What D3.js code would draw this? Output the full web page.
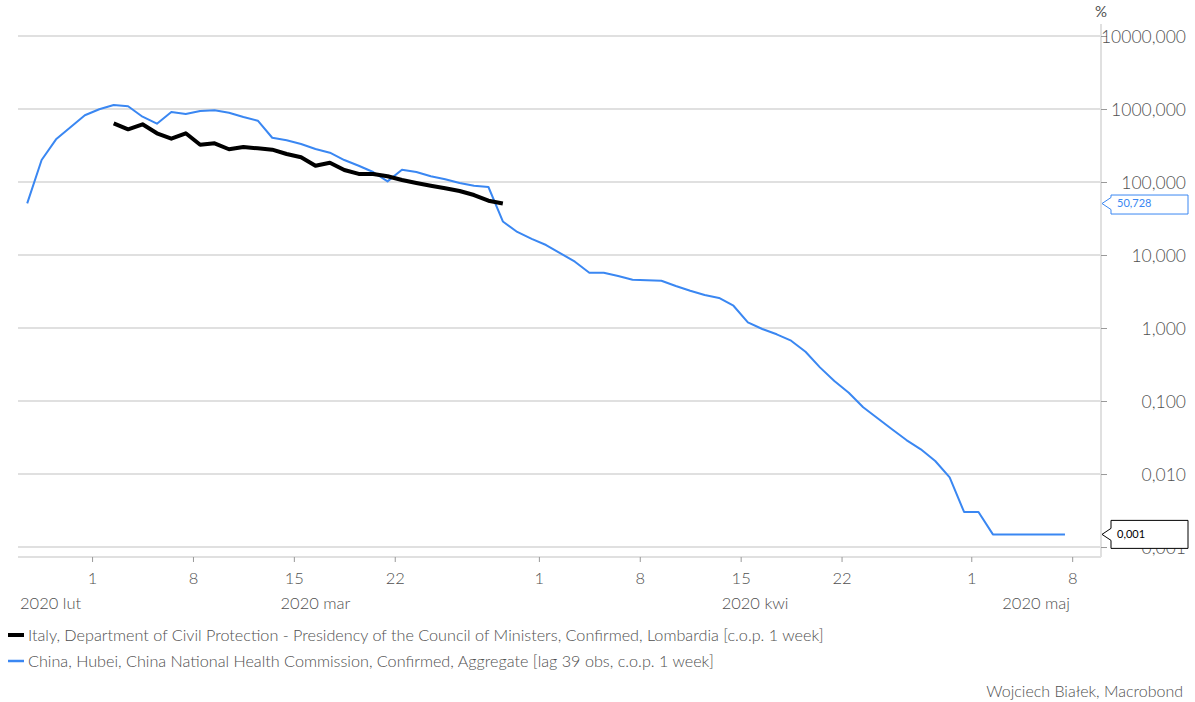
<!DOCTYPE html>
<html>
<head>
<meta charset="utf-8">
<script src="https://cdn.jsdelivr.net/npm/d3@7"></script>
<style>
  html, body { margin: 0; padding: 0; background: #fff; }
  svg { display: block; font-family: Lato, "Open Sans", sans-serif; }
</style>
</head>
<body>
<svg id="chart" width="1195" height="702"></svg>
<script>
// ---------- data ----------
const italyStart = "2020-03-02";
const italyValues = [637, 527, 617, 465, 392, 465, 324, 339, 281, 302, 289, 277, 242, 218,
  167, 184, 146, 129, 129, 120, 106.5, 96.9, 89.0, 82.0, 75.3, 66.3, 55.4, 50.728];

const chinaStart = "2020-02-25";
const chinaValues = [51, 200, 384, 561, 820, 991, 1134, 1089, 784, 629, 910, 854, 939, 960,
  890, 777, 691, 404, 373, 332, 283, 252, 200, 167, 137, 102, 147, 137, 120, 109, 96.9, 89.0,
  85.4, 28.8, 20.7, 16.6, 13.7, 10.55, 8.09, 5.72, 5.72, 5.16, 4.59, 4.50, 4.44, 3.76, 3.24,
  2.83, 2.58, 2.02, 1.197, 0.969, 0.820, 0.670, 0.473, 0.289, 0.188, 0.130, 0.082, 0.058,
  0.041, 0.0292, 0.0218, 0.01507, 0.00901, 0.00302, 0.00302, 0.00149, 0.00149, 0.00149,
  0.00149, 0.00149, 0.00149];

const yTickValues = [10000, 1000, 100, 10, 1, 0.1, 0.01, 0.001];
const xTickDates = ["2020-03-01", "2020-03-08", "2020-03-15", "2020-03-22", "2020-04-01",
  "2020-04-08", "2020-04-15", "2020-04-22", "2020-05-01", "2020-05-08"];
const monthLabels = ["2020 lut", "2020 mar", "2020 kwi", "2020 maj"];
const monthStarts = ["2020-02-25", "2020-03-01", "2020-04-01", "2020-05-01", "2020-05-10"];
const xDomain = ["2020-02-25", "2020-05-10"];
const yDomain = [0.00073, 14600];

const seriesNames = [
  "Italy, Department of Civil Protection - Presidency of the Council of Ministers, Confirmed, Lombardia [c.o.p. 1 week]",
  "China, Hubei, China National Health Commission, Confirmed, Aggregate [lag 39 obs, c.o.p. 1 week]"
];
const calloutTexts = ["50,728", "0,001"];
const unitLabel = "%";
const creditText = "Wojciech Białek, Macrobond";

// ---------- setup ----------
const parse = d3.utcParse("%Y-%m-%d");
const BLUE = "#3a87f2";
const GRID = "#d6d6d6";
const TEXT = "#505050";

const svg = d3.select("#chart");
const m = { left: 20, right: 1101, top: 24, bottom: 557 };

const x = d3.scaleUtc().domain(xDomain.map(parse)).range([m.left, m.right]);
const y = d3.scaleLog().domain(yDomain).range([m.bottom, m.top]);

function toSeries(start, vals) {
  const s = parse(start);
  return vals.map((v, i) => ({ date: new Date(d3.utcDay.offset(s, i).getTime() + 12 * 3600e3), v }));
}
const italy = toSeries(italyStart, italyValues);
const china = toSeries(chinaStart, chinaValues);

const locale = d3.formatLocale({ decimal: ",", thousands: "", grouping: [3], currency: ["", ""] });
const fmt = locale.format(".3f");

// gridlines
svg.append("g").selectAll("line").data(yTickValues).join("line")
  .attr("x1", 18).attr("x2", m.right)
  .attr("y1", d => y(d)).attr("y2", d => y(d))
  .attr("stroke", GRID).attr("stroke-width", 1.5);

// frame (right + bottom)
svg.append("line").attr("x1", m.right).attr("x2", m.right).attr("y1", m.top).attr("y2", m.bottom)
  .attr("stroke", "#e0e0e0").attr("stroke-width", 2);
svg.append("line").attr("x1", 18).attr("x2", m.right).attr("y1", m.bottom).attr("y2", m.bottom)
  .attr("stroke", "#e0e0e0").attr("stroke-width", 2);

// y axis (right)
const yAxis = svg.append("g").attr("transform", `translate(${m.right},0)`)
  .call(d3.axisRight(y).tickValues(yTickValues).tickFormat(fmt).tickSize(6).tickPadding(0));
yAxis.select(".domain").remove();
yAxis.selectAll(".tick line").attr("stroke", "#999");
yAxis.selectAll(".tick text")
  .attr("x", 85).attr("text-anchor", "end").attr("dy", "0.35em")
  .attr("fill", TEXT).style("font-size", "17.5px").style("font-family", "Lato, sans-serif").style("font-weight", 300);

svg.append("text").attr("x", m.right).attr("y", 12).attr("dy", "0.35em")
  .attr("text-anchor", "middle").attr("fill", TEXT).style("font-size", "15px").text(unitLabel);

// x axis
const xAxis = svg.append("g").attr("transform", `translate(0,${m.bottom})`)
  .call(d3.axisBottom(x).tickValues(xTickDates.map(parse)).tickFormat(d3.utcFormat("%-d")).tickSize(5).tickPadding(10));
xAxis.select(".domain").remove();
xAxis.selectAll(".tick line").attr("stroke", "#999");
xAxis.selectAll(".tick text").attr("fill", TEXT).style("font-size", "16.5px")
  .style("font-family", "Lato, sans-serif").style("font-weight", 300);

// month labels
svg.append("g").selectAll("text").data(monthLabels).join("text")
  .attr("x", (d, i) => i === 0 ? m.left : (x(parse(monthStarts[i])) + x(parse(monthStarts[i + 1]))) / 2)
  .attr("y", 603).attr("dy", "0.35em")
  .attr("text-anchor", (d, i) => i === 0 ? "start" : "middle")
  .attr("fill", TEXT).style("font-size", "16.5px").style("font-weight", 300)
  .text(d => d);

// lines
const line = d3.line().x(d => x(d.date)).y(d => y(d.v));
svg.append("path").datum(china).attr("d", line)
  .attr("fill", "none").attr("stroke", BLUE).attr("stroke-width", 2).attr("stroke-linejoin", "round");
svg.append("path").datum(italy).attr("d", line)
  .attr("fill", "none").attr("stroke", "#000").attr("stroke-width", 4).attr("stroke-linejoin", "round");

// callouts
function callout(yv, text, color, h) {
  const tipX = 1102, bx = 1111, bw = 77;
  const cy = y(yv);
  const top = cy - h / 2 - (color === BLUE ? -1 : 0);
  const g = svg.append("g");
  const t = top, b = top + h;
  const p = `M${bx},${t} L${bx + bw},${t} L${bx + bw},${b} L${bx},${b} L${bx},${cy + 6} L${tipX},${cy} L${bx},${cy - 6} Z`;
  g.append("path").attr("d", p).attr("fill", "#fff").attr("stroke", color).attr("stroke-width", 1);
  g.append("text").attr("x", bx + 6).attr("y", cy).attr("dy", "0.35em")
    .attr("fill", color).style("font-size", "11px").style("font-family", "Lato, sans-serif").text(text);
}
callout(italyValues[italyValues.length - 1], calloutTexts[0], BLUE, 19);
callout(chinaValues[chinaValues.length - 1], calloutTexts[1], "#000", 28);

// legend
const legendColors = ["#000", BLUE];
const legendW = [4, 2.5];
const lg = svg.append("g").selectAll("g").data(seriesNames).join("g")
  .attr("transform", (d, i) => `translate(0,${635 + i * 26})`);
lg.append("line").attr("x1", 8).attr("x2", 24).attr("y1", 0).attr("y2", 0)
  .attr("stroke", (d, i) => legendColors[i]).attr("stroke-width", (d, i) => legendW[i]);
lg.append("text").attr("x", 28).attr("y", 0).attr("dy", "0.35em")
  .attr("fill", TEXT).style("font-size", "16.2px").style("font-weight", 300).text(d => d);

// credit
svg.append("text").attr("x", 1183).attr("y", 691).attr("dy", "0.35em").attr("text-anchor", "end")
  .attr("fill", TEXT).style("font-size", "16px").style("font-weight", 300).text(creditText);
</script>
</body>
</html>
